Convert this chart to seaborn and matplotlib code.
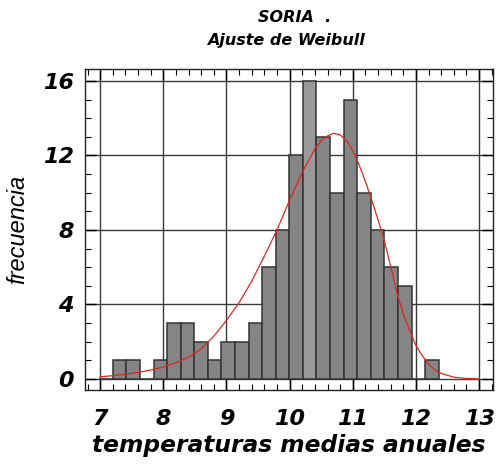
import matplotlib
matplotlib.use("Agg")
import matplotlib.pyplot as plt
import seaborn as sns
from matplotlib.ticker import MultipleLocator

# histogram of annual mean temperatures (bin edges and counts)
bin_edges = [6.985, 7.2, 7.415, 7.63, 7.845, 8.06, 8.275, 8.49, 8.705, 8.92,
             9.135, 9.35, 9.565, 9.78, 9.995, 10.21, 10.425, 10.64, 10.855,
             11.07, 11.285, 11.5, 11.715, 11.93, 12.145, 12.36]
counts = [0, 1, 1, 0, 1, 3, 3, 2, 1, 2, 2, 3, 6, 8, 12, 16, 13, 10, 15,
          10, 8, 6, 5, 0, 1]

# fitted Weibull curve
fit_x = [7.0, 7.2, 7.4, 7.6, 7.8, 8.0, 8.2, 8.4, 8.6, 8.8, 9.0, 9.2, 9.4,
         9.6, 9.8, 10.0, 10.2, 10.4, 10.5, 10.6, 10.7, 10.8, 10.9, 11.0,
         11.1, 11.2, 11.3, 11.4, 11.5, 11.6, 11.7, 11.8, 11.9, 12.0, 12.1,
         12.2, 12.3, 12.4, 12.6, 12.8, 13.0]
fit_y = [0.12, 0.18, 0.26, 0.35, 0.48, 0.65, 0.88, 1.17, 1.62, 2.3, 3.15,
         4.1, 5.25, 6.6, 8.0, 9.6, 11.1, 12.35, 12.8, 13.05, 13.19, 13.1,
         12.8, 12.25, 11.5, 10.6, 9.6, 8.55, 7.4, 6.05, 4.6, 3.5, 2.6, 1.8,
         1.25, 0.8, 0.5, 0.3, 0.1, 0.03, 0.0]

title_lines = ["SORIA  .", "Ajuste de Weibull"]
x_label = "temperaturas medias anuales"
y_label = "frecuencia"

centers = [(a + b) / 2 for a, b in zip(bin_edges[:-1], bin_edges[1:])]

plt.rcParams["font.family"] = ["DejaVu Sans"]
plt.rcParams["font.weight"] = "bold"
plt.rcParams["font.style"] = "italic"
plt.rcParams["axes.labelweight"] = "bold"

fig = plt.figure(figsize=(5.04, 4.68), dpi=100)
ax = fig.add_axes([85 / 504, 1 - 390 / 468, 408 / 504, 321 / 468])

sns.histplot(x=centers, weights=counts, bins=bin_edges, ax=ax,
             color="#858585", edgecolor="#333333", linewidth=1.1, alpha=1)
# the tallest bar is drawn a lighter grey in the original
for p, c in zip(ax.patches, counts):
    if c == max(counts):
        p.set_facecolor("#9a9a9a")

sns.lineplot(x=fit_x, y=fit_y, ax=ax, color="#e3261c", linewidth=0.9)

ax.set_xlim(6.76, 13.22)
ax.set_ylim(-0.59, 16.64)
ax.xaxis.set_major_locator(MultipleLocator(1))
ax.xaxis.set_minor_locator(MultipleLocator(0.2))
ax.yaxis.set_major_locator(MultipleLocator(4))
ax.yaxis.set_minor_locator(MultipleLocator(1))
ax.set_axisbelow(True)
ax.grid(True, which="major", color="#3a3a3a", linewidth=1.0)

ax.tick_params(which="both", direction="in", top=True, right=True,
               labelsize=16, colors="black")
ax.tick_params(which="major", length=8, width=1.0, pad=8)
ax.tick_params(which="minor", length=4.5, width=0.8)
ax.tick_params(axis="x", which="major", pad=14)
for s in ax.spines.values():
    s.set_linewidth(1.0)
    s.set_color("#222222")

ax.set_xlabel(x_label, fontsize=16.8, labelpad=3)
ax.set_ylabel(y_label, fontsize=17, labelpad=10, fontweight="normal",
              family=["Liberation Sans", "DejaVu Sans"])

fig.text(0.585, 1 - 18 / 468, title_lines[0], ha="center", va="center", fontsize=11.5)
fig.text(0.568, 1 - 41 / 468, title_lines[1], ha="center", va="center", fontsize=11.5)

fig.savefig("out.png", dpi=100)
